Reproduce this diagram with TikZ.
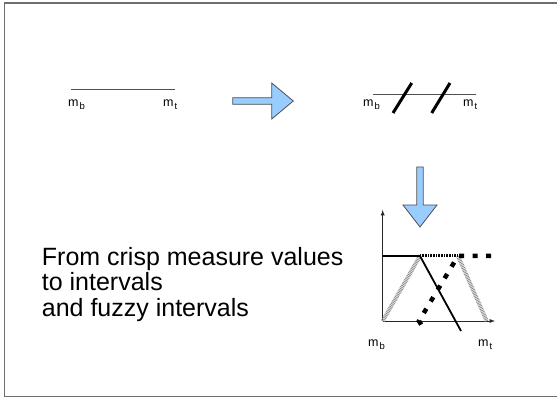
\documentclass[tikz,border=0pt]{standalone}
\usepackage{fontspec}
\setmainfont{Liberation Sans}
\usepackage{xcolor}
\usepackage{tikz}
\usetikzlibrary{arrows}
\definecolor{framegray}{RGB}{110, 110, 110}
\definecolor{linegray}{RGB}{80, 80, 80}
\definecolor{arrowblue}{RGB}{153, 204, 255}
\definecolor{hatchgray}{RGB}{140, 140, 140}
\newcommand{\msub}[1]{m\kern1pt\raisebox{-3pt}{\fontsize{9.5}{11}\selectfont #1}}

\begin{document}
\begin{tikzpicture}[x=1pt, y=-1pt,
    lbl/.style={anchor=base west, inner sep=0pt, font=\fontsize{12.5}{15}\selectfont},
    blockarrow/.style={draw=linegray, fill=arrowblue, line width=0.8pt, line join=miter},
    slash/.style={line width=3pt, black},
    axis/.style={-latex, line width=0.9pt, color=black!85},
    crisp/.style={line width=1.8pt, black},
    fuzzy/.style={line width=4pt, color=hatchgray, dash pattern=on 0.8pt off 0.8pt},
    interval/.style={line width=4.5pt, black, dash pattern=on 5pt off 8.5pt}
]
    \useasboundingbox (0,0) rectangle (557,398);
    \draw[framegray, line width=1.5pt] (560,3) -- (4.5,3) -- (4.5,396.7) -- (560,396.7);

    % crisp value
    \draw[linegray, line width=1pt] (71,90) -- (175,90);
    \node[lbl] (mb1) at (68,106.7) {\msub{b}};
    \node[lbl] (mt1) at (163,106.7) {\msub{t}};

    \draw[blockarrow] (232.7,97.7) -- (271.7,97.7) -- (271.7,83) -- (293.3,101)
        -- (271.7,119) -- (271.7,104.3) -- (232.7,104.3) -- cycle;

    % interval
    \draw[linegray, line width=1pt] (372.7,95) -- (476,95);
    \draw[slash] (393,113) -- (411.7,83);
    \draw[slash] (431.7,113) -- (450,83);
    \node[lbl] (mb2) at (363,106.7) {\msub{b}};
    \node[lbl] (mt2) at (463,106.7) {\msub{t}};

    \draw[blockarrow] (416.8,167) -- (423.2,167) -- (423.2,205) -- (437,205) -- (420,227)
        -- (403,205) -- (416.8,205) -- cycle;

    % fuzzy intervals
    \coordinate (origin) at (382.7,321);
    \draw[axis] (origin) -- (382.7,210);
    \draw[axis] (origin) -- (495,321);
    \draw[fuzzy] (origin) -- (420,256);
    \draw[fuzzy] (458,256) -- (486.7,321);
    \draw[line width=3pt, black, dash pattern=on 0.8pt off 0.8pt] (420,256) -- (458,256);
    \draw[crisp] (382.7,256) -- (420,256) -- (461,331);
    \draw[interval] (491,256) -- (458,256) -- (419,321) -- (425,331);
    \node[lbl] (mb3) at (368,346.7) {\msub{b}};
    \node[lbl] (mt3) at (478,346.7) {\msub{t}};

    \node[anchor=base west, inner sep=0pt, align=left, font=\fontsize{25}{25.8}\selectfont] (caption) at (41.7,316.7)
        {From crisp measure values\\to intervals\\and fuzzy intervals};
\end{tikzpicture}
\end{document}
